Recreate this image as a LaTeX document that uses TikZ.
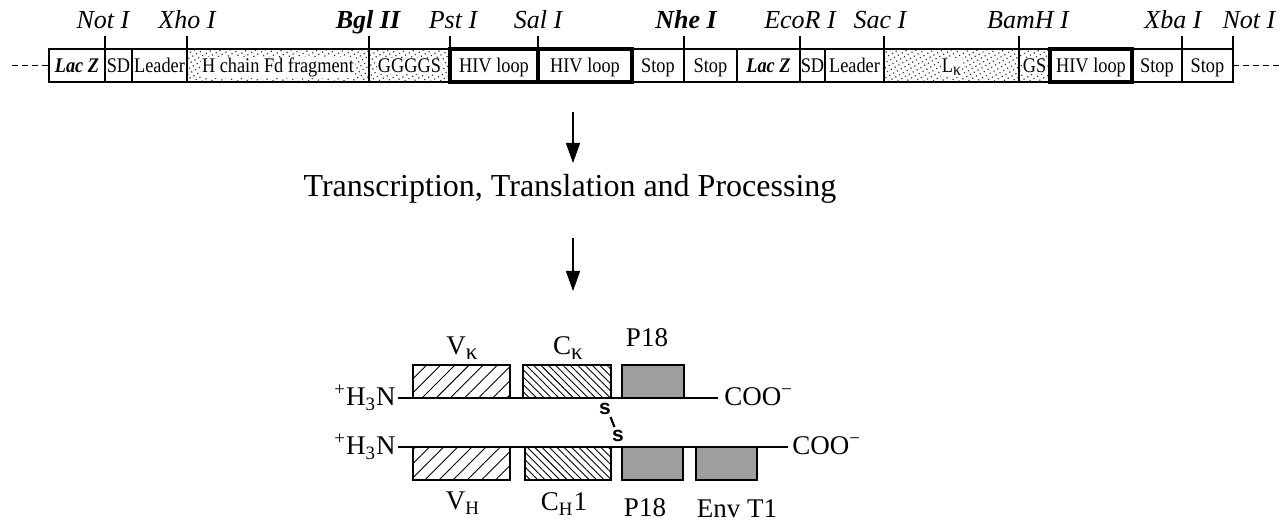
\documentclass[tikz,border=0pt]{standalone}
\usepackage{fontspec}
\setmainfont{Liberation Serif}
\setsansfont{Liberation Sans}
\newfontfamily\narrowserif[FakeStretch=0.88]{Liberation Serif}
\usepackage{tikz}
\usetikzlibrary{arrows.meta,patterns.meta}

\begin{document}
\begin{tikzpicture}[x=0.5pt,y=-0.5pt,
    seg/.style={draw,line width=1pt},
    loopseg/.style={draw,line width=1.7pt},
    stipple/.style={pattern={Dots[distance=2.2pt,radius=0.42pt,angle=30]},pattern color=black!80},
    segtxt/.style={font=\narrowserif\fontsize{10.4}{12}\selectfont,anchor=base,inner sep=0pt},
    site/.style={font=\fontsize{13}{15}\selectfont\itshape,anchor=base,inner sep=0pt},
    chaintxt/.style={font=\fontsize{13.5}{16}\selectfont,anchor=base,inner sep=0pt},
    vhatch/.style={pattern={Lines[angle=45,distance=5pt,line width=0.45pt]}},
    chatch/.style={pattern={Lines[angle=-45,distance=2.6pt,line width=0.45pt]}},
    pfill/.style={fill=black!38},
    dom/.style={draw,line width=1.2pt},
    flow/.style={line width=0.7pt,-{Triangle[length=10pt,width=7pt]}}]
    \useasboundingbox (0,0) rectangle (1286,523);

    % construct
    \draw[line width=0.8pt,dash pattern=on 3pt off 2pt] (12,65.5) -- (49,65.5);
    \draw[line width=0.8pt,dash pattern=on 3pt off 2pt] (1233,65.5) -- (1280,65.5);

    \draw[seg] (49,49) rectangle (105,82);
    \draw[seg] (105,49) rectangle (132,82);
    \draw[seg] (132,49) rectangle (187,82);
    \draw[seg,stipple] (187,49) rectangle (369,82);
    \draw[seg,stipple] (369,49) rectangle (450,82);
    \draw[seg] (632,49) rectangle (684,82);
    \draw[seg] (684,49) rectangle (737,82);
    \draw[seg] (737,49) rectangle (800,82);
    \draw[seg] (800,49) rectangle (825,82);
    \draw[seg] (825,49) rectangle (884,82);
    \draw[seg,stipple] (884,49) rectangle (1019,82);
    \draw[seg,stipple] (1019,49) rectangle (1050,82);
    \draw[seg] (1132,49) rectangle (1182,82);
    \draw[seg] (1182,49) rectangle (1233,82);
    \draw[loopseg] (450,49) rectangle (538,82);
    \draw[loopseg] (538,49) rectangle (632,82);
    \draw[loopseg] (1050,49) rectangle (1132,82);

    \node[segtxt] (lacz1) at (77,72.5) {\textbf{\textit{Lac Z}}};
    \node[segtxt] (sd1) at (118.5,72.5) {SD};
    \node[segtxt] (leader1) at (159.5,72.5) {Leader};
    \node[segtxt,fill=white,inner sep=0.6pt] (hchain) at (278,72.5) {H chain Fd fragment};
    \node[segtxt,fill=white,inner sep=0.6pt] (ggggs) at (409.5,72.5) {GGGGS};
    \node[segtxt] (hiv1) at (494,72.5) {HIV loop};
    \node[segtxt] (hiv2) at (585,72.5) {HIV loop};
    \node[segtxt] (stop1) at (658,72.5) {Stop};
    \node[segtxt] (stop2) at (710.5,72.5) {Stop};
    \node[segtxt] (lacz2) at (768.5,72.5) {\textbf{\textit{Lac Z}}};
    \node[segtxt] (sd2) at (812.5,72.5) {SD};
    \node[segtxt] (leader2) at (854.5,72.5) {Leader};
    \node[segtxt,fill=white,inner sep=0.6pt] (lk) at (951.5,72.5) {L\raisebox{-0.3ex}{\fontsize{9}{10}\selectfont κ}};
    \node[segtxt,fill=white,inner sep=0.6pt] (gs) at (1034.5,72.5) {GS};
    \node[segtxt] (hiv3) at (1091,72.5) {HIV loop};
    \node[segtxt] (stop3) at (1157,72.5) {Stop};
    \node[segtxt] (stop4) at (1207.5,72.5) {Stop};

    % restriction sites
    \foreach \x in {105,187,369,450,538,684,800,884,1019,1182,1233}
        \draw[line width=1pt] (\x,36) -- (\x,49);
    \node[site] (noti1) at (103,29) {Not I};
    \node[site] (xhoi) at (187,29) {Xho I};
    \node[site,font=\fontsize{13}{15}\selectfont\bfseries\itshape] (bglii) at (368,29) {Bgl II};
    \node[site] (psti) at (453,29) {Pst I};
    \node[site] (sali) at (538,29) {Sal I};
    \node[site,font=\fontsize{13}{15}\selectfont\bfseries\itshape] (nhei) at (686,29) {Nhe I};
    \node[site] (ecori) at (800,29) {EcoR I};
    \node[site] (saci) at (880,29) {Sac I};
    \node[site] (bamhi) at (1028,29) {BamH I};
    \node[site] (xbai) at (1173,29) {Xba I};
    \node[site] (noti2) at (1249,29) {Not I};

    % expression
    \coordinate (a1s) at (573,112);
    \coordinate (a1e) at (573,163);
    \node[font=\fontsize{16}{19}\selectfont,anchor=base] (proc) at (570,197) {Transcription, Translation and Processing};
    \coordinate (a2s) at (573,238);
    \coordinate (a2e) at (573,291);
    \draw[flow] (a1s) -- (a1e);
    \draw[flow] (a2s) -- (a2e);

    % light chain
    \draw[line width=0.9pt] (398,398) -- (718,398);
    \draw[dom,vhatch] (413,365) rectangle (510,398);
    \draw[dom,chatch] (523,365) rectangle (611,398);
    \draw[dom,pfill] (622,365) rectangle (684,398);
    \node[chaintxt,anchor=base east] (nterm1) at (396,406) {\textsuperscript{+}H\textsubscript{3}N};
    \node[chaintxt,anchor=base west] (cterm1) at (724,406) {COO\textsuperscript{−}};
    \node[chaintxt] (vk) at (462,355) {V\raisebox{-0.35ex}{\fontsize{11.5}{12}\selectfont κ}};
    \node[chaintxt] (ck) at (568,355) {C\raisebox{-0.35ex}{\fontsize{11.5}{12}\selectfont κ}};
    \node[chaintxt] (p18a) at (647,347) {P18};

    % heavy chain
    \draw[line width=0.9pt] (398,447) -- (788,447);
    \draw[dom,vhatch] (413,447) rectangle (510,480);
    \draw[dom,chatch] (525,447) rectangle (611,480);
    \draw[dom,pfill] (622,447) rectangle (683,480);
    \draw[dom,pfill] (696,447) rectangle (757,480);
    \node[chaintxt,anchor=base east] (nterm2) at (396,455) {\textsuperscript{+}H\textsubscript{3}N};
    \node[chaintxt,anchor=base west] (cterm2) at (792,455) {COO\textsuperscript{−}};
    \node[chaintxt] (vh) at (463,510) {V\textsubscript{H}};
    \node[chaintxt] (ch1) at (564,511) {C\textsubscript{H}1};
    \node[chaintxt] (p18b) at (645,517) {P18};
    \node[chaintxt] (envt1) at (737,518) {Env T1};

    % disulfide
    \node[font=\sffamily\bfseries\fontsize{10.5}{12}\selectfont,inner sep=0pt] (s1) at (605,409) {s};
    \node[font=\sffamily\bfseries\fontsize{10.5}{12}\selectfont,inner sep=0pt] (s2) at (618,436) {s};
    \coordinate (bond1) at (610.5,417);
    \coordinate (bond2) at (614.5,427);
    \draw[line width=1.1pt] (bond1) -- (bond2);
\end{tikzpicture}
\end{document}
